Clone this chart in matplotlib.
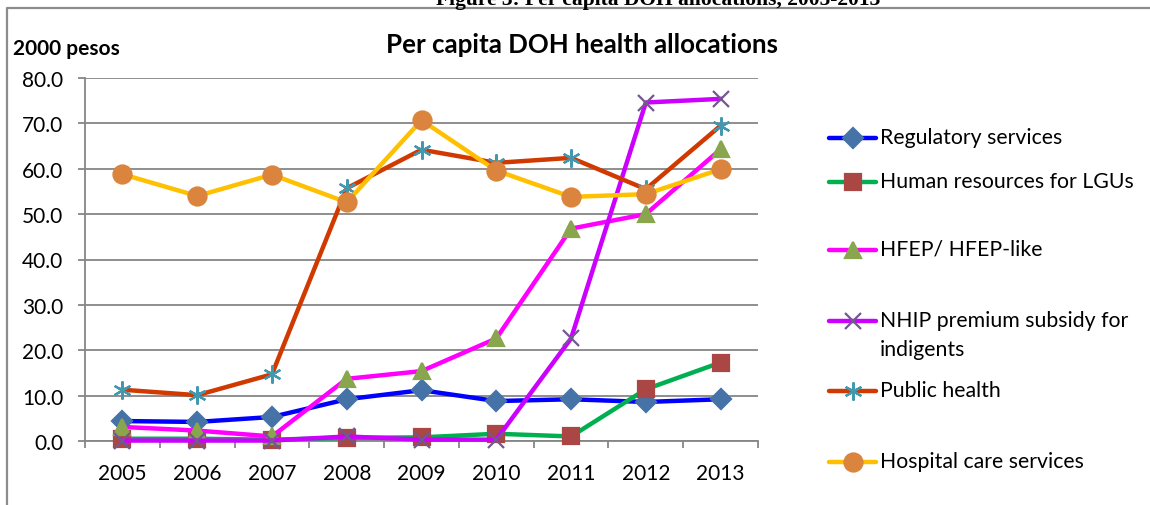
import numpy as np
import matplotlib
matplotlib.use("Agg")
import matplotlib.pyplot as plt

plt.rcParams['font.family'] = ['Lato', 'DejaVu Sans']

############################################################################################################
# data (2000 pesos per capita)
years = ["2005", "2006", "2007", "2008", "2009", "2010", "2011", "2012", "2013"]
regulatory = [4.4, 4.2, 5.3, 9.2, 11.2, 8.8, 9.2, 8.6, 9.2]
human_res = [0.5, 0.5, 0.3, 0.7, 0.8, 1.6, 1.0, 11.4, 17.3]
hfep = [3.1, 2.3, 1.0, 13.7, 15.4, 22.6, 46.8, 50.0, 64.3]
nhip = [0.1, 0.1, 0.1, 1.0, 0.3, 0.3, 22.6, 74.6, 75.4]
public_health = [11.3, 10.1, 14.7, 55.7, 64.2, 61.3, 62.4, 55.5, 69.5]
hospital = [58.8, 54.0, 58.7, 52.6, 70.7, 59.6, 53.8, 54.4, 59.9]

labels = ["Regulatory services", "Human resources for LGUs", "HFEP/ HFEP-like",
          "NHIP premium subsidy for\nindigents", "Public health", "Hospital care services"]

# line colour, marker, marker colour, marker size
styles = [("#0000FF", "D", "#4572A7", 10),
          ("#00B050", "s", "#AA4643", 11),
          ("#FF00FF", "^", "#89A54E", 12),
          ("#CC00FF", "x", "#71588F", 11),
          ("#D03A00", (6, 2, 0), "#4198AF", 13),
          ("#FFC000", "o", "#DB843D", 13)]
series = [regulatory, human_res, hfep, nhip, public_health, hospital]

###########################################################################################################
W, H = 1150, 506
fig = plt.figure(figsize=(W / 100, H / 100), dpi=100)

# plot area in pixels
L, R, T, B = 85, 758, 79, 442
ax = fig.add_axes([L / W, 1 - B / H, (R - L) / W, (B - T) / H])

x = np.arange(len(years))
for vals, (lc, mk, mc, ms) in zip(series, styles):
    ax.plot(x, vals, color=lc, lw=3.2, marker=mk, markersize=ms,
            markerfacecolor=mc, markeredgecolor=mc, markeredgewidth=1.6,
            solid_joinstyle='round', clip_on=False, zorder=3)

grid_c = "#868686"
ax.set_xlim(-0.5, len(years) - 0.5)
ax.set_ylim(0, 80)
ax.set_yticks(np.arange(0, 81, 10))
ax.set_yticklabels([f"{v:.1f}" for v in np.arange(0, 81, 10)])
ax.set_xticks(x)
ax.set_xticklabels(years)
ax.set_xticks(np.arange(-0.5, len(years), 1), minor=True)
ax.tick_params(axis='x', which='major', length=0, pad=15.5, labelsize=15)
ax.tick_params(axis='x', which='minor', length=5, width=1.3, color=grid_c)
ax.tick_params(axis='y', length=5, width=1.3, color=grid_c, pad=10.5, labelsize=15)
ax.yaxis.grid(True, color=grid_c, lw=1.3)
ax.set_axisbelow(True)
for s in ['top', 'right']:
    ax.spines[s].set_visible(False)
for s in ['left', 'bottom']:
    ax.spines[s].set_color(grid_c)
    ax.spines[s].set_linewidth(1.3)

###########################################################################################################
# overlay in pixel coordinates: frame, titles, legend
ov = fig.add_axes([0, 0, 1, 1], zorder=-1)
ov.set_xlim(0, W)
ov.set_ylim(H, 0)
ov.axis('off')

ov.plot([7, 7, W], [H, 9, 9], color="#8C8C8C", lw=1.6)
ov.text(880, 5, "Figure 3: Per capita DOH allocations, 2005-2013", ha='right', va='baseline',
        fontsize=15.5, fontweight='bold', family='Liberation Serif')
ov.text(582, 45, "Per capita DOH health allocations", ha='center', va='center',
        fontsize=18.6, fontweight='bold')
ov.text(13, 49, "2000 pesos", ha='left', va='center', fontsize=15, fontweight='bold')

leg_y = [139, 183, 251, 322, 392, 463]
leg = fig.add_axes([0, 0, 1, 1])
leg.set_xlim(0, W)
leg.set_ylim(H, 0)
leg.axis('off')
for yy, lab, (lc, mk, mc, ms) in zip(leg_y, labels, styles):
    leg.plot([829, 876], [yy, yy], color=lc, lw=3.2, solid_capstyle='round')
    leg.plot([852.5], [yy], linestyle='none', marker=mk, markersize=ms,
             markerfacecolor=mc, markeredgecolor=mc, markeredgewidth=1.6)
    leg.text(880, yy - 11, lab, ha='left', va='top', fontsize=15.3, linespacing=1.55)

fig.savefig("out.png", dpi=100)
